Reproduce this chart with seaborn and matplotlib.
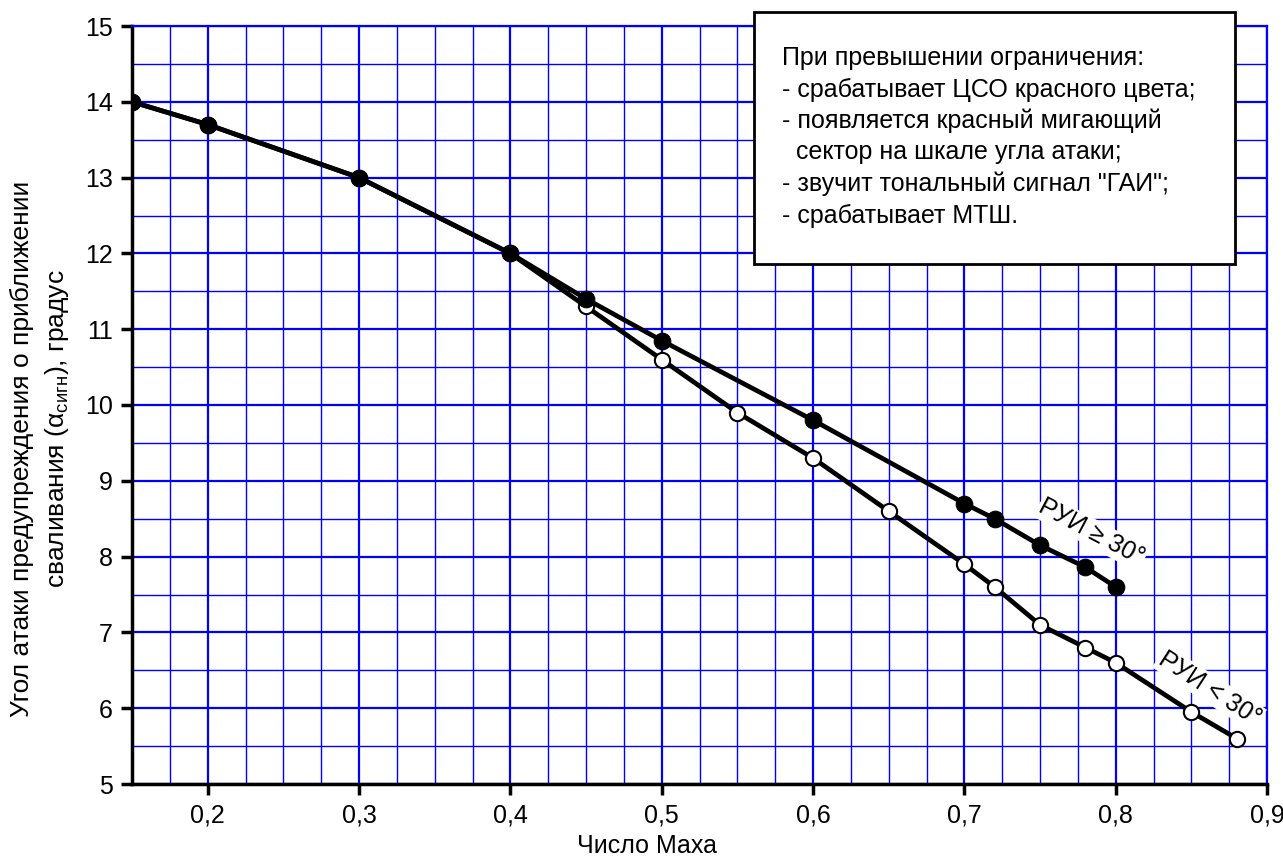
import numpy as np
import seaborn as sns
import matplotlib.pyplot as plt
from matplotlib.ticker import MultipleLocator, FuncFormatter
from matplotlib.patches import Rectangle


# РУИ >= 30 (закрашенные точки)
mach_high = [0.15, 0.2, 0.3, 0.4, 0.45, 0.5, 0.6, 0.7, 0.72, 0.75, 0.78, 0.8]
alpha_high = [14.0, 13.7, 13.0, 12.0, 11.4, 10.85, 9.8, 8.7, 8.5, 8.15, 7.86, 7.6]

# РУИ < 30 (светлые точки)
mach_low = [0.15, 0.2, 0.3, 0.4, 0.45, 0.5, 0.55, 0.6, 0.65, 0.7, 0.72, 0.75,
            0.78, 0.8, 0.85, 0.88]
alpha_low = [14.0, 13.7, 13.0, 12.0, 11.3, 10.6, 9.9, 9.3, 8.6, 7.9, 7.6, 7.1,
             6.8, 6.6, 5.95, 5.6]

note_lines = [
    "При превышении ограничения:",
    "- срабатывает ЦСО красного цвета;",
    "- появляется красный мигающий",
    "  сектор на шкале угла атаки;",
    "- звучит тональный сигнал \"ГАИ\";",
    "- срабатывает МТШ.",
]

sns.set_style("white")
plt.rcParams['font.family'] = ['Liberation Sans', 'DejaVu Sans']
plt.rcParams['mathtext.fontset'] = 'custom'
plt.rcParams['mathtext.rm'] = 'Liberation Sans'
plt.rcParams['mathtext.it'] = 'Liberation Sans'
plt.rcParams['text.color'] = 'black'
plt.rcParams['xtick.color'] = 'black'
plt.rcParams['ytick.color'] = 'black'

FS = 18

fig = plt.figure(figsize=(12.83, 8.58), dpi=100)
ax = fig.add_axes([132 / 1283, 1 - 784 / 858, (1267 - 132) / 1283, (784 - 26) / 858])

# открытые точки рисуем первыми, закрашенные поверх
sns.lineplot(x=mach_low, y=alpha_low, color='black', linewidth=3.4,
             marker='o', markersize=11, markerfacecolor='white',
             markeredgecolor='black', markeredgewidth=1.5, ax=ax, zorder=3)
sns.lineplot(x=mach_high, y=alpha_high, color='black', linewidth=3.4,
             marker='o', markersize=12, markerfacecolor='black',
             markeredgecolor='black', ax=ax, zorder=4)

ax.set_xlim(0.15, 0.9)
ax.set_ylim(5, 15)
ax.xaxis.set_major_locator(MultipleLocator(0.1))
ax.xaxis.set_minor_locator(MultipleLocator(0.025))
ax.yaxis.set_major_locator(MultipleLocator(1))
ax.yaxis.set_minor_locator(MultipleLocator(0.5))
ax.xaxis.set_major_formatter(FuncFormatter(lambda v, p: f"{v:.1f}".replace('.', ',')))
ax.yaxis.set_major_formatter(FuncFormatter(lambda v, p: f"{v:.0f}"))

ax.set_axisbelow(True)
ax.grid(which='major', color='#0000ff', linewidth=1.6)
ax.grid(which='minor', color='#0000ff', linewidth=1.0)
ax.tick_params(which='major', direction='out', length=8, width=2.5,
               labelsize=FS, color='black', left=True, bottom=True, pad=6)
ax.tick_params(which='minor', length=0)

for side in ['left', 'bottom']:
    ax.spines[side].set_color('black')
    ax.spines[side].set_linewidth(2.5)
for side in ['top', 'right']:
    ax.spines[side].set_color('#0000ff')
    ax.spines[side].set_linewidth(1.6)

ax.set_xlabel('')
ax.set_ylabel('')
fig.text(647 / 1283, 1 - 846 / 858, 'Число Маха', ha='center', va='center', fontsize=FS)
fig.text(22 / 1283, 1 - 449 / 858, 'Угол атаки предупреждения о приближении',
         rotation=90, ha='center', va='center', fontsize=19)
fig.text(57 / 1283, 1 - 429 / 858, r'сваливания ($\mathrm{α}_{\mathrm{сигн}}$), градус',
         rotation=90, ha='center', va='center', fontsize=19)

# подписи кривых
ax.text(0.784, 8.32, 'РУИ ≥ 30°', rotation=-28, ha='center', va='center', fontsize=FS,
        bbox=dict(facecolor='white', edgecolor='none', pad=1), zorder=5)
ax.text(0.862, 6.26, 'РУИ < 30°', rotation=-33, ha='center', va='center', fontsize=FS,
        bbox=dict(facecolor='white', edgecolor='none', pad=1), zorder=5)

# рамка с примечанием
box = Rectangle((754 / 1283, 1 - 264 / 858), (1235 - 754) / 1283, 252 / 858,
                transform=fig.transFigure, facecolor='white', edgecolor='black',
                linewidth=2, zorder=10)
fig.patches.append(box)
for i, line in enumerate(note_lines):
    fig.text(782 / 1283, 1 - (58 + 31.5 * i) / 858, line, ha='left', va='center',
             fontsize=FS, zorder=11)

fig.savefig('out.png', dpi=100, facecolor='white')
